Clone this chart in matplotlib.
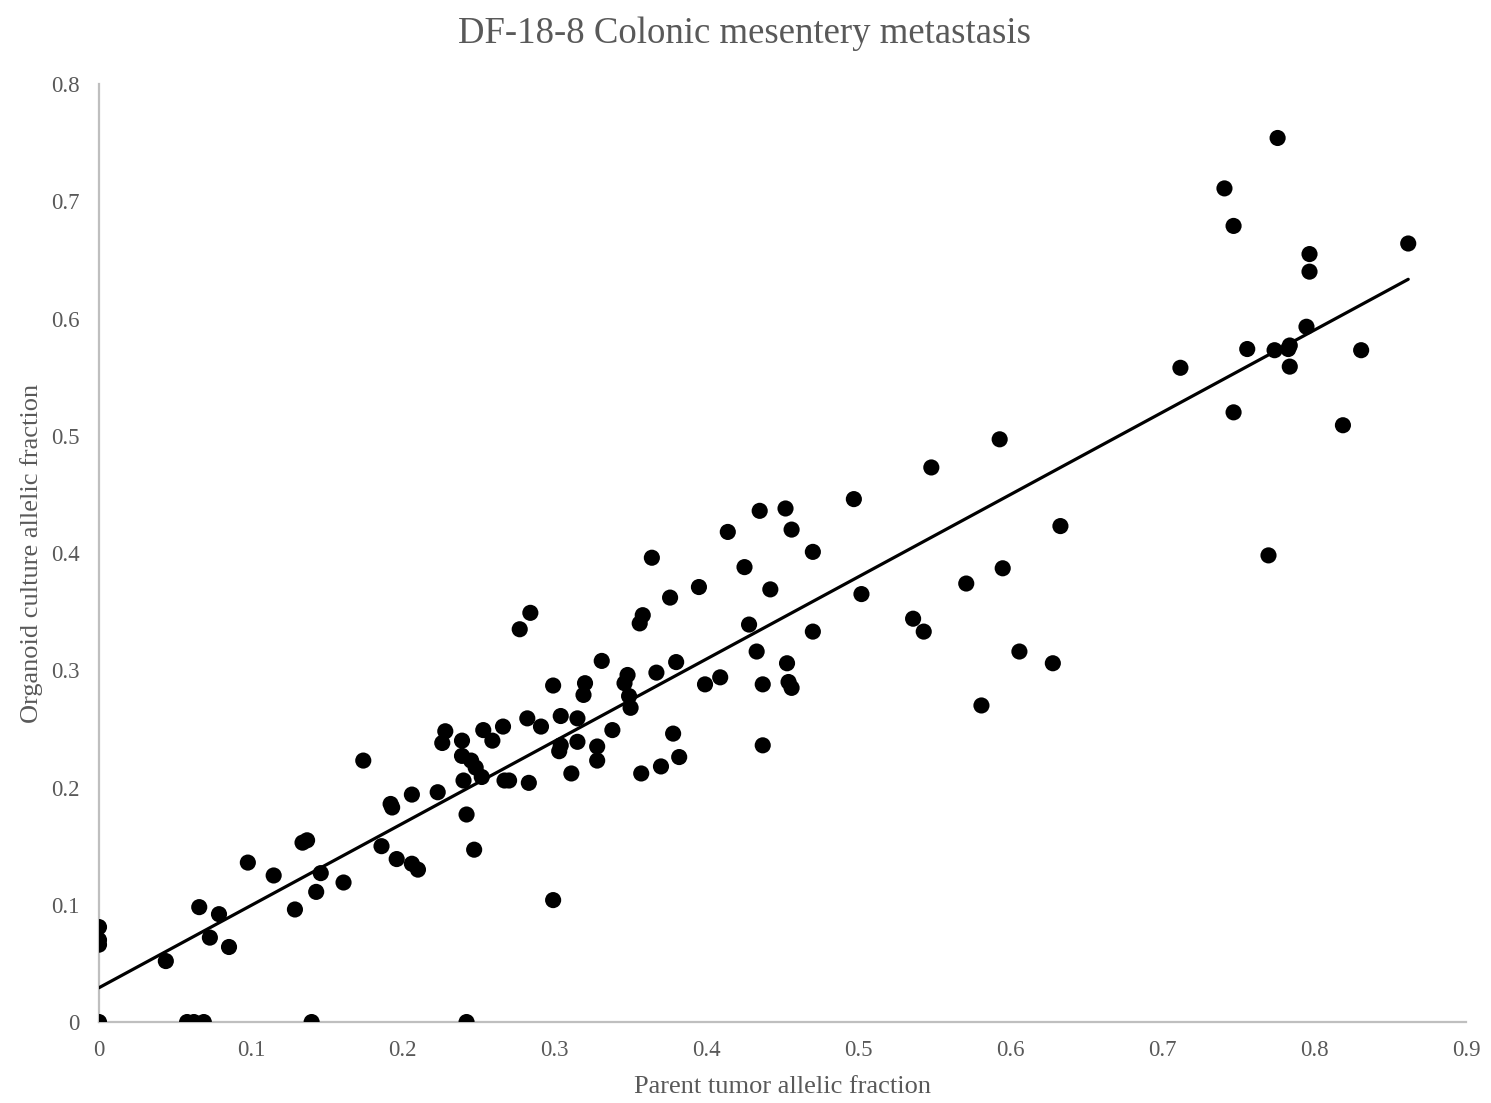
import numpy as np
import matplotlib.pyplot as plt
from matplotlib.ticker import FormatStrFormatter

# Allelic fractions
parent_af = [
    0.0, 0.0, 0.0, 0.0, 0.044, 0.058, 0.0625, 0.069, 0.066, 0.073,
    0.079, 0.0856, 0.098, 0.115, 0.129, 0.134, 0.137, 0.140, 0.143, 0.146,
    0.161, 0.174, 0.186, 0.192, 0.193, 0.196, 0.206, 0.206, 0.210, 0.223,
    0.226, 0.228, 0.239, 0.239, 0.240, 0.242, 0.242, 0.245, 0.248, 0.247,
    0.252, 0.253, 0.259, 0.266, 0.267, 0.270, 0.277, 0.282, 0.284, 0.283,
    0.291, 0.299, 0.299, 0.304, 0.304, 0.303, 0.311, 0.315, 0.315, 0.319,
    0.320, 0.328, 0.328, 0.331, 0.338, 0.346, 0.348, 0.349, 0.350, 0.356,
    0.358, 0.357, 0.364, 0.367, 0.370, 0.376, 0.378, 0.380, 0.382, 0.395,
    0.399, 0.409, 0.414, 0.425, 0.428, 0.433, 0.435, 0.437, 0.437, 0.442,
    0.452, 0.453, 0.454, 0.456, 0.456, 0.470, 0.470, 0.497, 0.502, 0.536,
    0.543, 0.548, 0.571, 0.581, 0.593, 0.595, 0.606, 0.628, 0.633, 0.712,
    0.741, 0.747, 0.747, 0.756, 0.770, 0.774, 0.776, 0.783, 0.784, 0.784,
    0.795, 0.797, 0.797, 0.819, 0.831, 0.862,
]
organoid_af = [
    0.081, 0.070, 0.066, 0.0, 0.052, 0.0, 0.0, 0.0, 0.098, 0.072,
    0.092, 0.064, 0.136, 0.125, 0.096, 0.153, 0.155, 0.0, 0.111, 0.127,
    0.119, 0.223, 0.150, 0.186, 0.183, 0.139, 0.194, 0.135, 0.130, 0.196,
    0.238, 0.248, 0.240, 0.227, 0.206, 0.177, 0.0, 0.223, 0.217, 0.147,
    0.209, 0.249, 0.240, 0.252, 0.206, 0.206, 0.335, 0.259, 0.349, 0.204,
    0.252, 0.287, 0.104, 0.261, 0.236, 0.231, 0.212, 0.259, 0.239, 0.279,
    0.289, 0.235, 0.223, 0.308, 0.249, 0.289, 0.296, 0.278, 0.268, 0.340,
    0.347, 0.212, 0.396, 0.298, 0.218, 0.362, 0.246, 0.307, 0.226, 0.371,
    0.288, 0.294, 0.418, 0.388, 0.339, 0.316, 0.436, 0.236, 0.288, 0.369,
    0.438, 0.306, 0.290, 0.285, 0.420, 0.401, 0.333, 0.446, 0.365, 0.344,
    0.333, 0.473, 0.374, 0.270, 0.497, 0.387, 0.316, 0.306, 0.423, 0.558,
    0.711, 0.679, 0.520, 0.574, 0.398, 0.573, 0.754, 0.574, 0.577, 0.559,
    0.593, 0.655, 0.640, 0.509, 0.573, 0.664,
]

x_ticks = [0, 0.1, 0.2, 0.3, 0.4, 0.5, 0.6, 0.7, 0.8, 0.9]
y_ticks = [0, 0.1, 0.2, 0.3, 0.4, 0.5, 0.6, 0.7, 0.8]

plt.rcParams['font.family'] = ['Liberation Serif', 'DejaVu Serif']
text_color = "#595959"
axis_color = "#BFBFBF"

fig = plt.figure(figsize=(14.91, 11.03), dpi=100)
ax = fig.add_axes([0.0664, 0.0734, 0.9168, 0.8504])

x = np.array(parent_af)
y = np.array(organoid_af)
ax.scatter(x, y, s=135, color="black", edgecolors="none", zorder=3)

# linear trendline over data range (like Excel)
slope, intercept = np.polyfit(x, y, 1)
xs = np.array([x.min(), x.max()])
ax.plot(xs, slope * xs + intercept, color="black", linewidth=2.3, zorder=4,
        solid_capstyle="round")

ax.set_xlim(0, 0.9)
ax.set_ylim(0, 0.8)
ax.set_xticks(x_ticks)
ax.set_yticks(y_ticks)
ax.xaxis.set_major_formatter(FormatStrFormatter('%g'))
ax.yaxis.set_major_formatter(FormatStrFormatter('%g'))
ax.tick_params(length=0, labelsize=16.5, colors=text_color)
ax.tick_params(axis="y", pad=14)
ax.tick_params(axis="x", pad=13)

for side in ["top", "right"]:
    ax.spines[side].set_visible(False)
for side in ["left", "bottom"]:
    ax.spines[side].set_color(axis_color)
    ax.spines[side].set_linewidth(1.6)

ax.set_xlabel("Parent tumor allelic fraction", fontsize=19, color=text_color, labelpad=11)
ax.set_ylabel("Organoid culture allelic fraction", fontsize=19, color=text_color, labelpad=6)
fig.suptitle("DF-18-8 Colonic mesentery metastasis", fontsize=26.5, color=text_color,
             x=0.499, y=0.985)

plt.savefig("out.png", dpi=100)
